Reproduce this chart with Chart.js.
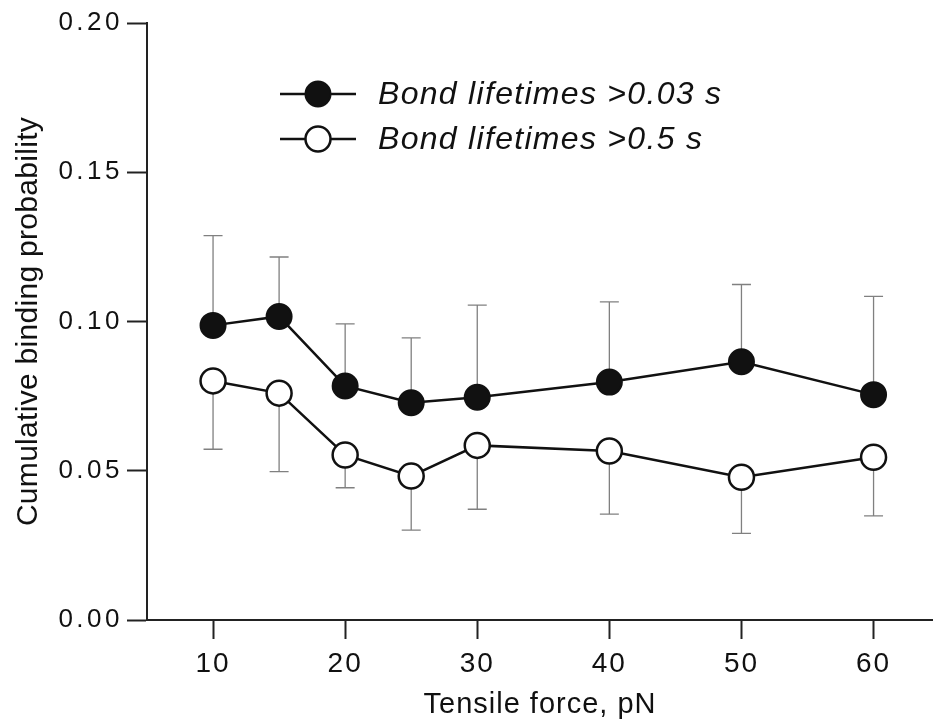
<!DOCTYPE html>
<html>
<head>
<meta charset="utf-8">
<script src="https://cdn.jsdelivr.net/npm/chart.js@4"></script>
<style>
  body { margin: 0; background: #fff; }
  #wrap { width: 933px; height: 722px; }
</style>
</head>
<body>
<div id="wrap"><canvas id="myChart" width="933" height="722"></canvas></div>
<script>
const force = [10, 15, 20, 25, 30, 40, 50, 60]
const shortBond = [0.0987, 0.1017, 0.0784, 0.0728, 0.0746, 0.0797, 0.0865, 0.0755]
const shortBondErr = [0.0301, 0.0199, 0.0208, 0.0217, 0.0309, 0.0269, 0.0259, 0.0329]
const longBond = [0.0801, 0.0760, 0.0553, 0.0482, 0.0585, 0.0566, 0.0478, 0.0545]
const longBondErr = [0.0229, 0.0263, 0.0110, 0.0181, 0.0214, 0.0211, 0.0188, 0.0196]
const xTicks = [10, 20, 30, 40, 50, 60]
const yTicks = [0, 0.05, 0.10, 0.15, 0.20]

const FONT = "'Liberation Sans', Arial, sans-serif"
const INK = '#111'
const ctx = document.getElementById('myChart')

// canvas letter spacing per scale part (chart.js has no option for it)
const spacing = { x: { labels: '2px', title: '1px' }, y: { labels: '3.5px', title: '0.3px' } }
const spacingPlugin = {
    id: 'spacing',
    beforeDraw(chart) {
        for (const id of ['x', 'y']) {
            const s = chart.scales[id]
            if (s._spaced) continue
            const dl = s.drawLabels, dt = s.drawTitle
            s.drawLabels = function (a) { this.ctx.save(); this.ctx.letterSpacing = spacing[id].labels; dl.call(this, a); this.ctx.restore() }
            s.drawTitle = function () { this.ctx.save(); this.ctx.letterSpacing = spacing[id].title; dt.call(this); this.ctx.restore() }
            s._spaced = true
        }
    }
}

// one-sided error bars: up for the filled series, down for the open one
const errorBars = {
    id: 'errorBars',
    beforeDatasetsDraw(chart) {
        const c = chart.ctx, xs = chart.scales.x, ys = chart.scales.y
        c.save()
        c.strokeStyle = '#808080'
        c.lineWidth = 1.3
        chart.data.datasets.forEach(ds => {
            ds.data.forEach((p, i) => {
                const x = xs.getPixelForValue(p.x)
                const y0 = ys.getPixelForValue(p.y)
                const y1 = ys.getPixelForValue(p.y + ds.errDir * ds.errors[i])
                c.beginPath()
                c.moveTo(x, y0); c.lineTo(x, y1)
                c.moveTo(x - 9.5, y1); c.lineTo(x + 9.5, y1)
                c.stroke()
            })
        })
        c.restore()
    }
}

const legendBox = {
    id: 'legendBox',
    afterDraw(chart) {
        const c = chart.ctx
        c.save()
        chart.data.datasets.forEach((ds, i) => {
            const y = 94 + i * 45
            c.strokeStyle = ds.borderColor
            c.lineWidth = ds.borderWidth
            c.beginPath(); c.moveTo(280, y); c.lineTo(356, y); c.stroke()
            c.beginPath(); c.arc(318, y, ds.pointRadius, 0, Math.PI * 2)
            c.fillStyle = ds.pointBackgroundColor; c.fill()
            c.lineWidth = ds.pointBorderWidth; c.stroke()
            c.fillStyle = INK
            c.font = `italic 32px ${FONT}`
            c.letterSpacing = '1.3px'
            c.textBaseline = 'alphabetic'
            c.fillText(ds.label, 378, y + 10)
            c.letterSpacing = '0px'
        })
        c.restore()
    }
}

new Chart(ctx, {
    type: 'line',
    data: {
        datasets: [
            {
                label: 'Bond lifetimes >0.03 s',
                data: force.map((f, i) => ({ x: f, y: shortBond[i] })),
                errors: shortBondErr,
                errDir: 1,
                borderColor: INK,
                borderWidth: 2.5,
                pointRadius: 12.5,
                pointBorderWidth: 2,
                pointBackgroundColor: INK,
                pointBorderColor: INK,
                clip: false
            },
            {
                label: 'Bond lifetimes >0.5 s',
                data: force.map((f, i) => ({ x: f, y: longBond[i] })),
                errors: longBondErr,
                errDir: -1,
                borderColor: INK,
                borderWidth: 2.5,
                pointRadius: 12.5,
                pointBorderWidth: 2.5,
                pointBackgroundColor: '#fff',
                pointBorderColor: INK,
                clip: false
            }
        ]
    },
    options: {
        responsive: false,
        animation: false,
        events: [],
        layout: { autoPadding: false, padding: { top: 23, right: 0, bottom: 0, left: 0 } },
        plugins: {
            legend: { display: false },
            tooltip: { enabled: false }
        },
        scales: {
            x: {
                type: 'linear',
                min: 5,
                max: 64.5,
                afterBuildTicks: s => { s.ticks = xTicks.map(v => ({ value: v })) },
                afterFit: s => { s.height = 102; s.paddingLeft = 0; s.paddingRight = 0 },
                ticks: { font: { family: FONT, size: 28 }, color: INK, padding: 8, maxRotation: 0 },
                grid: { drawOnChartArea: false, tickLength: 19, tickWidth: 2, tickColor: '#222' },
                border: { color: '#222', width: 2 },
                title: { display: true, text: 'Tensile force, pN', font: { family: FONT, size: 29 }, color: INK, padding: { top: 0, bottom: 0 } }
            },
            y: {
                min: 0,
                max: 0.2,
                afterBuildTicks: s => { s.ticks = yTicks.map(v => ({ value: v })) },
                afterFit: s => { s.width = 147 },
                ticks: { font: { family: FONT, size: 26 }, color: INK, padding: 4, callback: v => v.toFixed(2) },
                grid: { drawOnChartArea: false, tickLength: 20, tickWidth: 2, tickColor: '#222' },
                border: { color: '#222', width: 2 },
                title: { display: true, text: 'Cumulative binding probability', font: { family: FONT, size: 30 }, color: INK, padding: { top: 11, bottom: 0 } }
            }
        }
    },
    plugins: [spacingPlugin, errorBars, legendBox]
})
</script>
</body>
</html>
